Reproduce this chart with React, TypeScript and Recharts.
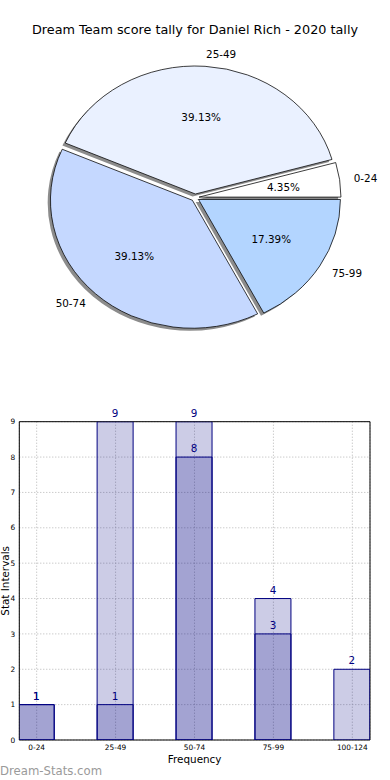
import React from 'react';
import {
  PieChart, Pie, Cell, BarChart, Bar, XAxis, YAxis, CartesianGrid, LabelList, ReferenceArea,
} from 'recharts';

// pie: score bands and how many games fell in each
const SLICE_NAMES = ['0-24', '25-49', '50-74', '75-99'];
const SLICE_COUNTS = [1, 9, 9, 4];
const SLICE_COLORS = ['#ffffff', '#eaf1ff', '#c5d8ff', '#b3d5ff'];

// bar chart: frequency per interval, two overlapping series
const BAR_CATEGORIES = ['0-24', '25-49', '50-74', '75-99', '100-124'];
const BAR_TOTAL = [1, 9, 9, 4, 2];
const BAR_PART = [1, 1, 8, 3, 0];
const Y_TICKS = [0, 1, 2, 3, 4, 5, 6, 7, 8, 9];

const FONT = '"DejaVu Sans", sans-serif';

// pie geometry (circle space, squashed vertically afterwards like the original)
const CX = 195.1;
const CY = 197.6;
const R = 141.9;
const EXPLODE = 4;
const SY = 0.902;
const SHADOW = 2.8;

const total = SLICE_COUNTS.reduce((a, b) => a + b, 0);
const midAngles = SLICE_COUNTS.map((v, i) => {
  const before = SLICE_COUNTS.slice(0, i).reduce((a, b) => a + b, 0);
  return (360 * (before + v / 2)) / total;
});
const pieData = SLICE_NAMES.map((name, i) => ({ name, value: SLICE_COUNTS[i] }));

const barData = BAR_CATEGORIES.map((name, i) => ({
  pos: i,
  name,
  total: BAR_TOTAL[i],
  part: BAR_PART[i],
}));

const centerOf = (i: number) => {
  const a = (midAngles[i] * Math.PI) / 180;
  return { x: CX + EXPLODE * Math.cos(a), y: CY - EXPLODE * Math.sin(a) };
};

const unsquash = (y: number) => `matrix(1 0 0 ${1 / SY} 0 ${y - y / SY})`;

const sliceLabel = (i: number) => (props: any) => {
  if (props.index !== i) return null;
  const c = centerOf(i);
  const a = (midAngles[i] * Math.PI) / 180;
  const ox = c.x + 1.1 * R * Math.cos(a);
  const oy = c.y - 1.1 * R * Math.sin(a);
  const px = c.x + 0.6 * R * Math.cos(a);
  const py = c.y - 0.6 * R * Math.sin(a);
  const pct = ((SLICE_COUNTS[i] / total) * 100).toFixed(2) + '%';
  return (
    <g>
      <text x={ox} y={oy} transform={unsquash(oy)} textAnchor={Math.cos(a) >= 0 ? 'start' : 'end'}
        dominantBaseline="central" fontSize={10.4} fontFamily={FONT} fill="#000">
        {SLICE_NAMES[i]}
      </text>
      <text x={px} y={py} transform={unsquash(py)} textAnchor="middle"
        dominantBaseline="central" fontSize={10.4} fontFamily={FONT} fill="#000">
        {pct}
      </text>
    </g>
  );
};

export default function App() {
  return (
    <div style={{ position: 'absolute', left: 0, top: 0, width: 390, height: 780, background: '#fff', fontFamily: FONT, overflow: 'hidden' }}>
      <div style={{ position: 'absolute', left: 0, top: 22, width: 390, height: 16, lineHeight: '16px', textAlign: 'center', fontSize: 12.8, color: '#000' }}>
        Dream Team score tally for Daniel Rich - 2020 tally
      </div>

      {/* pie, squashed into an ellipse around its own centre */}
      <div style={{ position: 'absolute', left: 0, top: 0, width: 390, height: 360, transform: `scaleY(${SY})`, transformOrigin: `${CX}px ${CY}px` }}>
        <PieChart width={390} height={360} margin={{ top: 0, right: 0, bottom: 0, left: 0 }}>
          {SLICE_NAMES.map((_, i) => {
            const c = centerOf(i);
            return (
              <Pie key={`shadow-${i}`} data={pieData} dataKey="value" cx={c.x - SHADOW} cy={c.y + SHADOW}
                innerRadius={0} outerRadius={R} startAngle={0} endAngle={360}
                isAnimationActive={false} labelLine={false}>
                {pieData.map((_, j) => (
                  <Cell key={j} fill={j === i ? '#8c8c8c' : 'none'} stroke="none" />
                ))}
              </Pie>
            );
          })}
          {SLICE_NAMES.map((_, i) => {
            const c = centerOf(i);
            return (
              <Pie key={`slice-${i}`} data={pieData} dataKey="value" cx={c.x} cy={c.y}
                innerRadius={0} outerRadius={R} startAngle={0} endAngle={360}
                isAnimationActive={false} labelLine={false} label={sliceLabel(i)}>
                {pieData.map((_, j) => (
                  <Cell key={j} fill={j === i ? SLICE_COLORS[i] : 'none'}
                    stroke={j === i ? '#000' : 'none'} strokeWidth={0.8} />
                ))}
              </Pie>
            );
          })}
        </PieChart>
      </div>

      <div style={{ position: 'absolute', left: 0, top: 400, width: 390, height: 380 }}>
        <BarChart width={390} height={380} data={barData} margin={{ top: 21.7, right: 20, bottom: 10, left: 0 }}>
          <CartesianGrid xAxisId="a" stroke="#b5b5b5" strokeDasharray="1 2" />
          <XAxis xAxisId="a" dataKey="pos" type="number" domain={[-0.22, 4.224]} ticks={[0, 1, 2, 3, 4]}
            tickFormatter={(v: number) => BAR_CATEGORIES[v]} allowDataOverflow height={30}
            axisLine={false} tickLine={false} tickSize={0} tickMargin={5} interval={0}
            tick={{ fontSize: 7.4, fill: '#000', fontFamily: FONT }}
            label={{ value: 'Frequency', position: 'insideBottom', offset: 7, fontSize: 10.4, fill: '#000', fontFamily: FONT }} />
          <XAxis xAxisId="b" dataKey="pos" type="number" domain={[-0.22, 4.224]} allowDataOverflow hide />
          <YAxis domain={[0, 9]} ticks={Y_TICKS} width={19.3} axisLine={false} tickLine={false}
            tickSize={0} tickMargin={4} interval={0} allowDataOverflow
            tick={{ fontSize: 7.4, fill: '#000', fontFamily: FONT }}
            label={{ value: 'Stat Intervals', angle: -90, position: 'insideLeft', offset: 5, fontSize: 10.4, fill: '#000', fontFamily: FONT, style: { textAnchor: 'middle' } }} />
          <Bar xAxisId="a" dataKey="total" barSize={36} fill="navy" fillOpacity={0.2} stroke="navy" strokeWidth={1} isAnimationActive={false}>
            <LabelList dataKey="total" position="top" fill="navy" fontSize={10.4} fontFamily={FONT} />
          </Bar>
          <Bar xAxisId="b" dataKey="part" barSize={36} fill="navy" fillOpacity={0.2} stroke="navy" strokeWidth={1} isAnimationActive={false}>
            <LabelList dataKey="part" position="top" fill="navy" fontSize={10.4} fontFamily={FONT}
              formatter={(v: any) => (v ? v : '')} />
          </Bar>
          <ReferenceArea xAxisId="a" x1={-0.22} x2={4.224} y1={0} y2={9} fill="none" stroke="#000" strokeWidth={1} ifOverflow="visible" />
        </BarChart>
      </div>

      <div style={{ position: 'absolute', left: 0, top: 763, height: 16, lineHeight: '16px', fontSize: 11.7, color: '#9a9a9a' }}>
        Dream-Stats.com
      </div>
    </div>
  );
}
